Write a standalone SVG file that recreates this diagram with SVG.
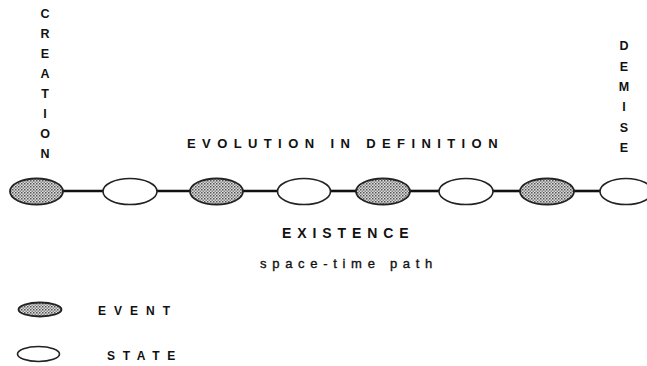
<svg xmlns="http://www.w3.org/2000/svg" width="647" height="366" viewBox="0 0 647 366">
<defs>
<pattern id="dots" width="3" height="3" patternUnits="userSpaceOnUse">
<rect width="3" height="3" fill="#dcdcdc"/>
<rect x="0" y="0" width="1.5" height="1.5" fill="#555"/>
<rect x="1.5" y="1.5" width="1.5" height="1.5" fill="#888"/>
</pattern>
<style>
.ev{fill:url(#dots);stroke:#222;stroke-width:1.8}
.st{fill:#fff;stroke:#222;stroke-width:1.6}
.con{stroke:#111;stroke-width:2.6;fill:none}
.t{font-family:"Liberation Sans",Arial,sans-serif;font-weight:bold;fill:#111}
.v{font-size:12.5px;text-anchor:middle}
</style>
</defs>
<rect width="647" height="366" fill="#fff"/>
<g id="connectors">
<line class="con" x1="63" y1="191" x2="103" y2="191"/>
<line class="con" x1="157" y1="191" x2="190" y2="191"/>
<line class="con" x1="243" y1="191" x2="278" y2="191"/>
<line class="con" x1="330" y1="191" x2="356" y2="191"/>
<line class="con" x1="410" y1="191" x2="439" y2="191"/>
<line class="con" x1="493" y1="191" x2="520" y2="191"/>
<line class="con" x1="574" y1="191" x2="600" y2="191"/>
</g>
<g id="n1"><ellipse class="ev" cx="36.5" cy="191.5" rx="26.5" ry="13"/></g>
<g id="n2"><ellipse class="st" cx="130" cy="191.5" rx="27" ry="13"/></g>
<g id="n3"><ellipse class="ev" cx="216.5" cy="191.5" rx="26.5" ry="13"/></g>
<g id="n4"><ellipse class="st" cx="304" cy="191.5" rx="26.5" ry="13"/></g>
<g id="n5"><ellipse class="ev" cx="383" cy="191.5" rx="27" ry="13"/></g>
<g id="n6"><ellipse class="st" cx="466" cy="191.5" rx="27" ry="13"/></g>
<g id="n7"><ellipse class="ev" cx="547" cy="191.5" rx="27" ry="13"/></g>
<g id="n8"><ellipse class="st" cx="626" cy="191.5" rx="26" ry="13"/></g>
<g id="creation" class="t v">
<text x="45" y="18">C</text>
<text x="45" y="38">R</text>
<text x="45" y="58">E</text>
<text x="45" y="78">A</text>
<text x="45" y="98">T</text>
<text x="45" y="118">I</text>
<text x="45" y="138">O</text>
<text x="45" y="158">N</text>
</g>
<g id="demise" class="t v">
<text x="624" y="50">D</text>
<text x="624" y="70.5">E</text>
<text x="624" y="91">M</text>
<text x="624" y="111">I</text>
<text x="624" y="131.5">S</text>
<text x="624" y="152">E</text>
</g>
<text class="t" x="187" y="148" font-size="13" letter-spacing="6.4">EVOLUTION IN DEFINITION</text>
<text class="t" x="282" y="238" font-size="14" letter-spacing="5.9">EXISTENCE</text>
<text x="260" y="268" font-family="Liberation Sans,Arial,sans-serif" font-size="13" letter-spacing="5.7" fill="#111" stroke="#111" stroke-width="0.35">space-time path</text>
<g id="legend-event">
<ellipse class="ev" cx="40" cy="309.5" rx="21.5" ry="7"/>
<text class="t" x="98" y="315" font-size="12" letter-spacing="8">EVENT</text>
</g>
<g id="legend-state">
<ellipse class="st" cx="38.5" cy="354" rx="21" ry="7.5"/>
<text class="t" x="107" y="360" font-size="12" letter-spacing="7.7">STATE</text>
</g>
</svg>
